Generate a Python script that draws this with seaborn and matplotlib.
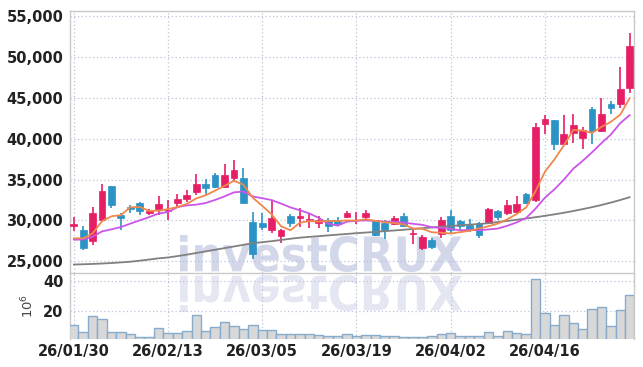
import matplotlib
matplotlib.use('Agg')
import matplotlib.pyplot as plt
import matplotlib.transforms as mtransforms
from matplotlib.textpath import TextPath
from matplotlib.font_manager import FontProperties
from matplotlib.patches import PathPatch
import numpy as np
import seaborn as sns

# x-axis date labels (every 10 sessions)
dates = ['26/01/30', '26/02/13', '26/03/05', '26/03/19', '26/04/02', '26/04/16']
date_pos = [0, 10, 20, 30, 40, 50]

# daily OHLC (won)
opens = [29350, 28770, 27460, 30000, 34180, 30610, 31650, 32170, 30900, 31390,
         31100, 32130, 32580, 33480, 34460, 35570, 34090, 35240, 35240, 29800,
         29670, 28860, 28070, 30490, 30280, 30000, 29670, 30000, 30090, 30410,
         30000, 30410, 30000, 29670, 29590, 30490, 28300, 26600, 27630, 28360,
         30490, 29880, 29390, 29670, 29670, 31100, 30900, 31020, 33190, 32460,
         41790, 42290, 39340, 40730, 40160, 43600, 40970, 44250, 44210, 46180]
highs = [30400, 29300, 31630, 34420, 34200, 30900, 31900, 32250, 31440, 32950,
         32540, 33200, 33690, 35740, 35120, 35750, 36880, 37450, 36470, 31020,
         30900, 32460, 28950, 30820, 31510, 30820, 30490, 30280, 30400, 31100,
         31020, 31310, 30100, 30000, 30500, 30900, 28860, 28160, 27900, 30400,
         31310, 30100, 30200, 29800, 31560, 31230, 32540, 32950, 33300, 41880,
         42900, 42290, 42900, 42990, 41460, 43920, 44950, 44620, 48760, 53010]
lows = [28650, 26400, 26930, 29750, 31560, 28770, 30900, 30610, 30610, 30610,
        30050, 31630, 32250, 33070, 33070, 34000, 34000, 34700, 32000, 25300,
        28770, 28440, 27210, 29180, 29180, 29100, 29100, 28560, 29500, 30250,
        29590, 30090, 28100, 27750, 29400, 29180, 27140, 26400, 26500, 27900,
        28360, 28860, 28560, 27870, 29590, 30090, 30610, 30820, 32000, 32300,
        40650, 38600, 39340, 39500, 38810, 39420, 40850, 42990, 43840, 45640]
closes = [29500, 26600, 30900, 33560, 31930, 30280, 31350, 31140, 31140, 32000,
          31250, 32660, 33070, 34460, 33970, 34090, 35570, 36140, 32130, 25910,
          29180, 30330, 28860, 29670, 30530, 30200, 30000, 29260, 29590, 30900,
          30100, 30900, 28160, 28860, 30330, 29300, 28400, 27950, 26720, 30090,
          28770, 29260, 28770, 28160, 31440, 30410, 31840, 32050, 32130, 41460,
          42370, 39340, 40570, 41670, 41140, 40930, 42990, 43720, 46060, 51380]

# moving averages as drawn (5, 10 and long-term)
ma5 = [27800, 27800, 28400, 29900, 30500, 30650, 31600, 31650, 31170, 31180,
       31380, 31640, 32020, 32690, 33080, 33650, 34230, 34850, 34380, 32770,
       31790, 30740, 29280, 28790, 29710, 29920, 29850, 29930, 29920, 29990,
       29970, 30150, 29930, 29780, 29670, 29510, 29010, 28970, 28540, 28490,
       28390, 28560, 28720, 29010, 29280, 29610, 30130, 30780, 31580, 33580,
       35970, 37470, 39180, 41090, 41020, 40730, 41460, 42090, 42970, 45020]
ma10 = [27630, 27650, 28000, 28650, 28900, 29180, 29600, 30000, 30400, 30840,
        31020, 31620, 31840, 31930, 32130, 32510, 32940, 33440, 33530, 32930,
        32720, 32490, 32060, 31590, 31240, 30850, 30300, 29610, 29350, 29850,
        29940, 30000, 29930, 29850, 29830, 29740, 29580, 29450, 29160, 29080,
        28950, 28780, 28850, 28780, 28890, 29000, 29340, 29750, 30290, 31430,
        32790, 33800, 34980, 36330, 37300, 38350, 39470, 40530, 41930, 42920]
ma_long = [24590, 24620, 24660, 24710, 24770, 24850, 24930, 25060, 25200, 25350,
           25450, 25620, 25800, 26000, 26200, 26400, 26600, 26800, 27000, 27200,
           27330, 27450, 27600, 27750, 27880, 27980, 28060, 28160, 28250, 28340,
           28430, 28510, 28590, 28680, 28760, 28850, 28950, 29040, 29130, 29220,
           29310, 29400, 29480, 29560, 29650, 29800, 29930, 30080, 30230, 30390,
           30560, 30740, 30930, 31150, 31380, 31620, 31890, 32180, 32500, 32850]

# volume (millions of shares)
volume = [10.3, 5.4, 16.4, 14.2, 5.8, 5.4, 4.2, 2.4, 2.4, 8.1,
          4.7, 4.7, 6.1, 16.9, 6.0, 8.8, 12.1, 9.6, 7.8, 10.3,
          6.7, 6.7, 4.0, 4.0, 4.0, 4.0, 3.6, 2.9, 2.9, 4.2,
          2.9, 3.4, 3.4, 2.9, 2.9, 2.4, 2.4, 2.0, 2.9, 4.2,
          4.7, 2.9, 2.9, 2.9, 5.4, 2.9, 6.1, 4.7, 4.2, 41.1,
          18.2, 10.3, 16.9, 11.5, 7.4, 20.9, 22.3, 9.6, 20.2, 30.3]

UP = '#e61e66'
DOWN = '#2b93c5'
GRID = '#bcc3da'
FRAME = '#c9c9c9'
TXT = '#222222'

sns.set_style('white')
plt.rcParams['font.family'] = ['Liberation Sans Narrow', 'DejaVu Sans']

W, H = 643, 367
fig = plt.figure(figsize=(W / 100, H / 100), dpi=100)
fig.patch.set_facecolor('white')

left, right = 69.5, 634
ax = fig.add_axes([left / W, (H - 272.5) / H, (right - left) / W, (272.5 - 10.7) / H])
axv = fig.add_axes([left / W, (H - 338.5) / H, (right - left) / W, (338.5 - 272.5) / H])
for a in (ax, axv):
    a.set_facecolor('none')

x = np.arange(len(closes))
o = np.array(opens)
c = np.array(closes)
cols = np.where(c >= o, UP, DOWN)

# candles
ax.vlines(x, lows, highs, colors=cols, linewidth=1.2, zorder=3)
ax.bar(x, np.maximum(np.abs(c - o), 70), bottom=np.minimum(o, c), width=0.72,
       color=cols, edgecolor=cols, linewidth=0.5, zorder=4)

# moving averages
sns.lineplot(x=x, y=ma_long, ax=ax, color='#808080', linewidth=1.3, zorder=5)
sns.lineplot(x=x, y=ma10, ax=ax, color='#cc55e8', linewidth=1.3, zorder=5)
sns.lineplot(x=x, y=ma5, ax=ax, color='#f0884c', linewidth=1.3, zorder=6)

ax.set_xlim(-0.45, 59.45)
ax.set_ylim(23610, 55710)
ax.set_yticks([25000, 30000, 35000, 40000, 45000, 50000, 55000])
ax.set_yticklabels([f'{v:,}' for v in [25000, 30000, 35000, 40000, 45000, 50000, 55000]])
ax.set_xticks(date_pos)
ax.set_xticklabels([])
ax.set_xlabel('')
ax.set_ylabel('')

# volume
sns.barplot(x=x, y=volume, ax=axv, native_scale=True, color='#d8d8d8',
            edgecolor='#87abcc', linewidth=1.0, width=1.0, saturation=1, zorder=3)
axv.set_xlim(-0.45, 59.45)
axv.set_ylim(1.2, 45.7)
axv.set_yticks([20, 40])
axv.set_yticklabels(['20', '40'])
axv.set_xticks(date_pos)
axv.set_xticklabels(dates)
axv.set_xlabel('')
axv.set_ylabel('10$^6$', fontsize=9.5, color='#444444', labelpad=5)

for a in (ax, axv):
    a.grid(True, color=GRID, linestyle=(0, (1, 2)), linewidth=0.9)
    a.set_axisbelow(True)
    a.tick_params(length=0, labelsize=10.5, labelcolor=TXT)
    a.tick_params(axis='y', pad=4.5)
    a.tick_params(axis='x', pad=4)
    for lbl in a.get_xticklabels() + a.get_yticklabels():
        lbl.set_fontweight('bold')
    for s in a.spines.values():
        s.set_color(FRAME)
        s.set_linewidth(1.0)
axv.spines['top'].set_visible(False)
axv.spines['bottom'].set_visible(False)

# watermark with reflection
prop = FontProperties(family='DejaVu Sans', weight='bold')
tp = TextPath((0, 0), 'investCRUX', size=100, prop=prop)
bb = tp.get_extents()
x0, x1 = 180, 462
sx = (x1 - x0) / bb.width
sy = (272 - 235) / bb.height
t_main = mtransforms.Affine2D().translate(-bb.x0, -bb.y0).scale(sx, sy).translate(x0, H - 272)
t_refl = mtransforms.Affine2D().translate(-bb.x0, -bb.y0).scale(sx, -sy).translate(x0, H - 275)
fig.add_artist(PathPatch(t_main.transform_path(tp), facecolor='#d2d7ea', edgecolor='none',
                         transform=mtransforms.IdentityTransform(), zorder=-1))
fig.add_artist(PathPatch(t_refl.transform_path(tp), facecolor='#e4e7f1', edgecolor='none',
                         transform=mtransforms.IdentityTransform(), zorder=-1))

fig.savefig('out.png', dpi=100)
